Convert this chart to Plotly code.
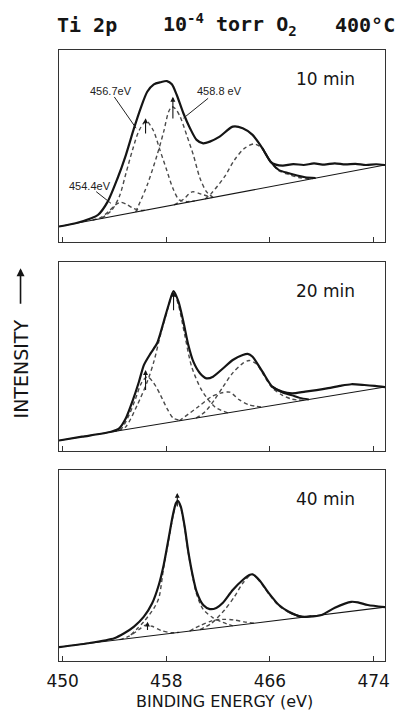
import plotly.graph_objects as go

# ---------------------------------------------------------------
# Ti 2p spectra after 10, 20 and 40 min in 1e-4 torr O2 at 400 C
# energies in eV, intensities in arbitrary units (0-100 per panel)
# ---------------------------------------------------------------

TICK_VALUES = [450, 458, 466, 474]
TICK_LABELS = ["450", "458", "466", "474"]
PANEL_LABELS = ["10 min", "20 min", "40 min"]

# ---------- 10 min ----------
P10_RAW_E = [449.72, 451.0, 452.21, 452.72, 453.48, 454.24, 454.88, 455.51, 456.02, 456.53,
             457.04, 457.55, 458.05, 458.43, 458.81, 459.32, 459.83, 460.34, 460.85, 461.36,
             462.12, 463.13, 463.90, 464.66, 465.42, 466.05, 466.45, 467.0, 467.8, 468.6,
             469.4, 470.2, 471.0, 471.8, 472.6, 473.4, 474.2, 474.88]
P10_RAW_I = [7.9, 9.6, 12.2, 13.9, 20.9, 33.1, 45.2, 59.2, 69.6, 78.2,
             82.1, 83.2, 83.8, 82.1, 76.5, 67.0, 59.2, 53.1, 51.3, 52.2,
             54.8, 60.0, 59.2, 55.7, 48.7, 41.7, 40.2, 39.7, 40.5, 40.0,
             40.8, 40.2, 40.9, 40.3, 40.6, 40.0, 40.4, 40.0]
P10_FIT_E = [465.42, 466.05, 466.69, 467.46, 468.1, 468.72, 469.5]
P10_FIT_I = [48.7, 41.7, 37.4, 35.7, 34.5, 33.6, 33.2]
P10_BG_E = [449.72, 474.88]
P10_BG_I = [7.9, 40.0]
P10_C1_E = [452.3, 453.0, 453.6, 454.1, 454.5, 454.9, 455.4, 456.0, 456.6]
P10_C1_I = [11.2, 12.8, 16.0, 19.3, 20.5, 19.6, 17.6, 16.3, 16.7]
P10_C2_E = [453.0, 453.8, 454.4, 454.9, 455.4, 455.9, 456.45, 457.0, 457.5, 458.0, 458.5, 459.0, 459.6, 460.2]
P10_C2_I = [12.1, 16.5, 24.0, 36.0, 48.0, 58.0, 63.0, 58.0, 48.0, 38.0, 28.0, 21.8, 20.9, 21.3]
P10_C3_E = [455.64, 456.53, 457.29, 457.8, 458.18, 458.43, 458.7, 459.07, 459.57, 460.09, 460.6, 461.1, 461.6]
P10_C3_I = [15.5, 29.6, 45.2, 57.4, 67.8, 70.4, 69.4, 65.2, 55.7, 45.2, 33.1, 26.1, 23.1]
P10_C4_E = [458.6, 459.3, 460.0, 460.7, 461.5]
P10_C4_I = [19.2, 22.0, 26.0, 24.8, 23.0]
P10_C5_E = [461.0, 461.48, 462.5, 463.26, 464.03, 464.79, 465.42, 466.05, 466.69, 467.46, 468.2, 469.0, 469.6]
P10_C5_I = [22.3, 25.2, 33.9, 42.6, 48.7, 51.0, 48.5, 41.5, 37.0, 35.0, 33.5, 32.8, 33.3]
# peak markers: energy, tail intensity, tip intensity
P10_MARK_E = [456.4, 458.51]
P10_MARK_LO = [55.7, 63.5]
P10_MARK_HI = [64.4, 75.6]

# ---------- 20 min ----------
P20_RAW_E = [449.72, 451.5, 453.74, 454.37, 454.88, 455.38, 455.89, 456.27, 456.79, 457.29,
             457.80, 458.18, 458.56, 458.94, 459.32, 459.70, 460.09, 460.6, 461.1, 461.61,
             462.37, 463.13, 463.9, 464.28, 464.66, 465.42, 466.18, 466.94, 467.71, 468.72,
             469.6, 470.5, 471.4, 472.28, 473.29, 474.1, 474.88]
P20_RAW_I = [5.8, 7.8, 10.4, 12.2, 17.5, 26.3, 36.8, 45.6, 51.8, 57.1,
             68.5, 77.3, 84.7, 79.1, 68.5, 56.2, 47.4, 41.3, 38.6, 39.5,
             43.8, 48.3, 50.9, 51.5, 50.0, 42.1, 34.2, 31.6, 30.7, 31.6,
             32.4, 33.4, 34.6, 35.5, 35.1, 34.6, 34.0]
P20_FIT_E = [466.18, 466.94, 467.71, 468.3, 469.0]
P20_FIT_I = [34.2, 31.2, 29.6, 28.3, 27.5]
P20_BG_E = [449.72, 474.88]
P20_BG_I = [5.8, 34.0]
P20_C1_E = [453.9, 454.5, 455.13, 455.64, 456.07, 456.53, 457.04, 457.55, 458.05, 458.56, 459.2]
P20_C1_I = [10.5, 11.8, 19.3, 28.1, 36.0, 39.5, 36.0, 29.8, 22.8, 17.5, 16.4]
P20_C2_E = [454.3, 454.88, 455.76, 456.53, 457.04, 457.55, 458.05, 458.43, 458.56, 458.94,
            459.45, 459.96, 460.72, 461.74, 462.75]
P20_C2_I = [11.0, 13.1, 24.5, 36.8, 47.4, 61.5, 73.8, 82.6, 84.3, 77.3,
            60.6, 44.7, 32.5, 23.6, 20.4]
P20_C3_E = [459.0, 460.47, 461.48, 462.2, 462.9, 463.65, 464.4, 465.5]
P20_C3_I = [16.2, 23.6, 28.9, 30.8, 31.3, 27.2, 24.6, 23.4]
P20_C4_E = [460.3, 461.0, 461.74, 462.37, 463.13, 463.9, 464.4, 465.0, 465.42, 466.18, 466.94, 467.71, 468.6]
P20_C4_I = [17.6, 21.0, 27.5, 34.0, 41.5, 46.5, 48.0, 46.0, 41.5, 33.6, 29.8, 27.6, 27.0]
P20_MARK_E = [456.4, 458.56]
P20_MARK_LO = [31.6, 73.8]
P20_MARK_HI = [43.0, 84.3]

# ---------- 40 min ----------
P40_RAW_E = [449.72, 451.95, 453.99, 454.75, 455.51, 456.27, 456.91, 457.42, 457.8, 458.18,
             458.51, 458.74, 458.89, 459.12, 459.4, 459.7, 460.03, 460.34, 460.85, 461.36,
             461.86, 462.37, 463.13, 463.9, 464.41, 464.66, 465.17, 465.93, 466.69, 467.46,
             468.47, 468.98, 469.99, 471.01, 472.28, 472.79, 473.55, 474.88]
P40_RAW_I = [7.3, 9.3, 11.9, 14.5, 18.0, 23.2, 30.2, 39.8, 50.3, 64.2,
             76.4, 82.6, 83.8, 80.8, 71.2, 57.2, 45.0, 36.3, 29.3, 27.2,
             27.8, 30.5, 37.2, 42.4, 45.0, 45.4, 42.4, 35.4, 29.3, 25.8,
             23.2, 23.2, 24.1, 27.9, 31.0, 30.7, 29.3, 28.2]
P40_FIT_E = [467.46, 468.47, 469.2]
P40_FIT_I = [25.6, 23.1, 23.5]
P40_BG_E = [449.72, 474.88]
P40_BG_I = [7.3, 28.2]
P40_C1_E = [454.4, 455.13, 455.9, 456.4, 456.9, 457.6, 458.4, 459.0]
P40_C1_I = [11.2, 13.0, 16.5, 18.8, 18.2, 16.0, 14.8, 15.0]
P40_C2_E = [455.26, 456.27, 457.04, 457.42, 457.8, 458.18, 458.51, 458.74, 458.89, 459.12,
            459.4, 459.7, 460.03, 460.34, 460.85, 461.61, 462.37, 463.13]
P40_C2_I = [13.6, 20.6, 27.6, 32.8, 49.0, 63.2, 75.6, 81.8, 83.2, 80.2,
            70.6, 56.6, 44.3, 35.0, 27.0, 22.6, 20.2, 18.4]
P40_C3_E = [459.8, 460.6, 461.5, 462.3, 463.2, 464.0, 464.8]
P40_C3_I = [15.7, 18.5, 21.0, 21.8, 21.5, 20.5, 19.8]
P40_C4_E = [460.6, 461.48, 462.5, 463.26, 463.9, 464.41, 464.66, 465.17, 465.93, 466.69, 467.46, 468.47]
P40_C4_I = [16.4, 19.7, 26.7, 33.7, 40.7, 44.5, 45.2, 42.0, 35.0, 28.9, 25.4, 22.9]
P40_MARK_E = [456.55, 458.85]
P40_MARK_LO = [15.5, 80.1]
P40_MARK_HI = [20.6, 88.0]

# peak assignment labels on the 10 min panel: text, text position, leader start, leader end
P10_NOTE_TEXT = ["456.7eV", "458.8 eV", "454.4eV"]
P10_NOTE_E = [453.74, 462.12, 452.14]
P10_NOTE_I = [78.8, 78.8, 29.1]
P10_LEAD_E0 = [453.99, 461.23, 452.59]
P10_LEAD_I0 = [75.5, 74.8, 26.1]
P10_LEAD_E1 = [455.67, 459.32, 453.73]
P10_LEAD_I1 = [59.2, 64.4, 20.0]

panels = [
    dict(raw=(P10_RAW_E, P10_RAW_I), fit=(P10_FIT_E, P10_FIT_I), bg=(P10_BG_E, P10_BG_I),
         comps=[(P10_C1_E, P10_C1_I), (P10_C2_E, P10_C2_I), (P10_C3_E, P10_C3_I),
                (P10_C4_E, P10_C4_I), (P10_C5_E, P10_C5_I)],
         marks=(P10_MARK_E, P10_MARK_LO, P10_MARK_HI)),
    dict(raw=(P20_RAW_E, P20_RAW_I), fit=(P20_FIT_E, P20_FIT_I), bg=(P20_BG_E, P20_BG_I),
         comps=[(P20_C1_E, P20_C1_I), (P20_C2_E, P20_C2_I), (P20_C3_E, P20_C3_I),
                (P20_C4_E, P20_C4_I)],
         marks=(P20_MARK_E, P20_MARK_LO, P20_MARK_HI)),
    dict(raw=(P40_RAW_E, P40_RAW_I), fit=(P40_FIT_E, P40_FIT_I), bg=(P40_BG_E, P40_BG_I),
         comps=[(P40_C1_E, P40_C1_I), (P40_C2_E, P40_C2_I), (P40_C3_E, P40_C3_I),
                (P40_C4_E, P40_C4_I)],
         marks=(P40_MARK_E, P40_MARK_LO, P40_MARK_HI)),
]

# vertical extent of each panel (paper fraction), top to bottom
DOMAINS = [[0.6863, 1.0], [0.3429, 0.6530], [0.0, 0.3126]]
X_RANGE = [449.72, 474.88]

INK = "#151515"
FRAME = "#333333"
DASH_INK = "#4a4a4a"
SANS = "DejaVu Sans"

fig = go.Figure()
annotations = []
shapes = []

for k, p in enumerate(panels):
    n = "" if k == 0 else str(k + 1)
    xa, ya = "x" + n, "y" + n

    for ce, ci in p["comps"]:
        fig.add_trace(go.Scatter(x=ce, y=ci, xaxis=xa, yaxis=ya, mode="lines",
                                 line=dict(color=DASH_INK, width=1.4, dash="4px,3px",
                                           shape="spline", smoothing=0.8),
                                 hoverinfo="skip", showlegend=False))
    fig.add_trace(go.Scatter(x=p["bg"][0], y=p["bg"][1], xaxis=xa, yaxis=ya, mode="lines",
                             line=dict(color=INK, width=1.1), hoverinfo="skip", showlegend=False))
    fig.add_trace(go.Scatter(x=p["fit"][0], y=p["fit"][1], xaxis=xa, yaxis=ya, mode="lines",
                             line=dict(color=INK, width=2.0, shape="spline", smoothing=0.8),
                             hoverinfo="skip", showlegend=False))
    fig.add_trace(go.Scatter(x=p["raw"][0], y=p["raw"][1], xaxis=xa, yaxis=ya, mode="lines",
                             line=dict(color=INK, width=2.2, shape="spline", smoothing=0.7),
                             hoverinfo="skip", showlegend=False))

    # peak position markers
    for me, lo, hi in zip(*p["marks"]):
        annotations.append(dict(x=me, y=hi, ax=me, ay=lo, xref=xa, yref=ya, axref=xa, ayref=ya,
                                text="", showarrow=True, arrowhead=2, arrowsize=0.9,
                                arrowwidth=1.1, arrowcolor=INK, standoff=0))

    # panel label
    annotations.append(dict(x=470.3, y=0.848, xref=xa, yref=ya + " domain",
                            text=PANEL_LABELS[k], showarrow=False,
                            font=dict(family=SANS, size=17, color=INK),
                            xanchor="center", yanchor="middle"))

    axis_common = dict(range=X_RANGE, showline=True, mirror=True, linecolor=FRAME,
                       linewidth=1.3, showgrid=False, zeroline=False,
                       tickmode="array", tickvals=TICK_VALUES, ticktext=TICK_LABELS,
                       ticks="inside", ticklen=5, tickwidth=1.2, tickcolor=FRAME,
                       showticklabels=(k == 2), ticklabelstandoff=4,
                       tickfont=dict(family=SANS, size=17, color=INK),
                       anchor=ya)
    yaxis_common = dict(range=[0, 100], domain=DOMAINS[k], showline=True, mirror=True,
                        linecolor=FRAME, linewidth=1.3, showgrid=False, zeroline=False,
                        showticklabels=False, ticks="", anchor=xa)
    fig.update_layout({"xaxis" + n: axis_common, "yaxis" + n: yaxis_common})

# peak assignment notes on the 10 min panel
for t, te, ti, e0, i0, e1, i1 in zip(P10_NOTE_TEXT, P10_NOTE_E, P10_NOTE_I,
                                     P10_LEAD_E0, P10_LEAD_I0, P10_LEAD_E1, P10_LEAD_I1):
    annotations.append(dict(x=te, y=ti, xref="x", yref="y", text=t, showarrow=False,
                            font=dict(family="Liberation Sans", size=11, color="#222222"),
                            xanchor="center", yanchor="middle"))
    shapes.append(dict(type="line", xref="x", yref="y", x0=e0, y0=i0, x1=e1, y1=i1,
                       line=dict(color="#222222", width=1)))

# header
title_font = dict(family="DejaVu Sans Mono", size=20, color=INK)
for txt, xp in [("<b>Ti 2p</b>", -0.012),
                ("<b>10<sup>-4</sup> torr O<sub>2</sub></b>", 0.312),
                ("<b>400°C</b>", 0.842)]:
    annotations.append(dict(x=xp, y=1.041, xref="paper", yref="paper", text=txt,
                            showarrow=False, font=title_font, xanchor="left", yanchor="middle"))

# axis titles
annotations.append(dict(x=0.509, y=-0.066, xref="paper", yref="paper",
                        text="BINDING ENERGY (eV)", showarrow=False,
                        font=dict(family=SANS, size=16, color=INK),
                        xanchor="center", yanchor="middle"))
annotations.append(dict(x=-0.118, y=0.478, xref="paper", yref="paper", text="INTENSITY",
                        textangle=-90, showarrow=False,
                        font=dict(family=SANS, size=19, color=INK),
                        xanchor="center", yanchor="middle"))
annotations.append(dict(x=-0.118, y=0.643, xref="paper", yref="paper", text="",
                        showarrow=True, ax=0, ay=37, arrowhead=2, arrowsize=1.0,
                        arrowwidth=1.6, arrowcolor=INK, standoff=0))

fig.update_layout(width=402, height=712,
                  margin=dict(l=59, r=13, t=50, b=51),
                  paper_bgcolor="white", plot_bgcolor="white",
                  showlegend=False, annotations=annotations, shapes=shapes)

fig.write_html("out.html")
